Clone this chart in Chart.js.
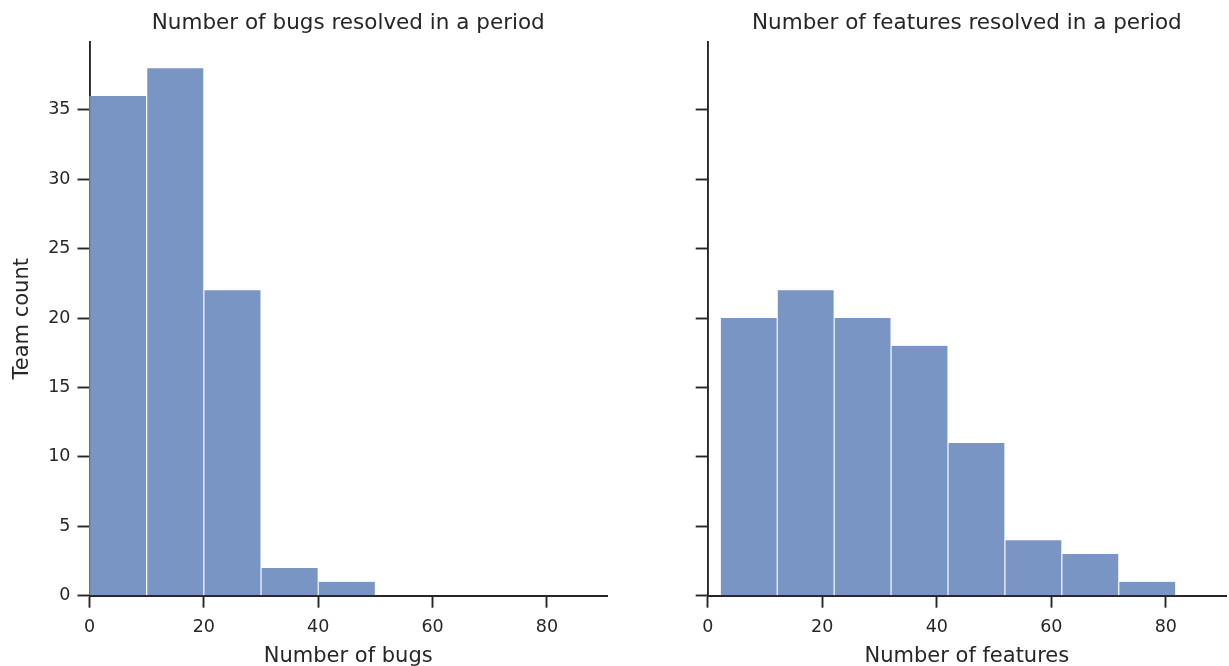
<!DOCTYPE html>
<html>
<head>
<meta charset="utf-8">
<script src="https://cdn.jsdelivr.net/npm/chart.js@4.4.1/dist/chart.umd.min.js"></script>
<style>
  html, body { margin: 0; padding: 0; background: #ffffff; }
  #wrap { position: relative; width: 1229px; height: 666px; }
  canvas { position: absolute; left: 0; top: 0; }
</style>
</head>
<body>
<div id="wrap">
  <canvas id="left" width="1229" height="666"></canvas>
  <canvas id="right" width="1229" height="666"></canvas>
</div>
<script>
// ---- Data ----
const bugBinEdges = [0, 10, 20, 30, 40, 50];
const bugCounts = [36, 38, 22, 2, 1];

const featureBinEdges = [2.2, 12.14, 22.08, 32.02, 41.96, 51.9, 61.84, 71.78, 81.72];
const featureCounts = [20, 22, 20, 18, 11, 4, 3, 1];

const xTickValues = [0, 20, 40, 60, 80];
const yTickValues = [0, 5, 10, 15, 20, 25, 30, 35];

const leftTitle = 'Number of bugs resolved in a period';
const rightTitle = 'Number of features resolved in a period';
const leftXLabel = 'Number of bugs';
const rightXLabel = 'Number of features';
const yLabel = 'Team count';

const xMin = 0, xMax = 90.5;
const yMin = 0, yMax = 39.9;

// ---- Styling ----
const INK = '#262626';
const BAR = 'rgba(76,114,176,0.75)';
const FONT = 'DejaVu Sans';

function toPoints(edges, counts) {
  return counts.map((c, i) => ({ x: (edges[i] + edges[i + 1]) / 2, y: c }));
}

function makeChart(canvasId, edges, counts, title, xLabel, showYLabels, yAxisWidth, padRight) {
  const ctx = document.getElementById(canvasId).getContext('2d');
  return new Chart(ctx, {
    type: 'bar',
    data: {
      datasets: [{
        data: toPoints(edges, counts),
        backgroundColor: BAR,
        borderColor: '#ffffff',
        borderWidth: { left: 0.9, right: 0.9, top: 0, bottom: 0 },
        borderSkipped: false,
        barPercentage: 1.0,
        categoryPercentage: 1.0
      }]
    },
    options: {
      responsive: false,
      animation: false,
      events: [],
      layout: { padding: { left: 0, right: padRight, top: 0, bottom: 0 } },
      plugins: {
        legend: { display: false },
        tooltip: { enabled: false },
        title: {
          display: true,
          text: title,
          fullSize: false,
          color: INK,
          font: { family: FONT, size: 21.5, weight: 'normal' },
          padding: { top: 10.8, bottom: 5.2 }
        }
      },
      scales: {
        x: {
          type: 'linear',
          min: xMin,
          max: xMax,
          offset: false,
          z: 1,
          afterBuildTicks: (s) => { s.ticks = xTickValues.map(v => ({ value: v })); },
          afterFit: (s) => { s.height = 70.3; },
          grid: {
            display: true,
            drawOnChartArea: false,
            drawTicks: true,
            offset: false,
            tickLength: 12,
            tickWidth: 1.9,
            tickColor: INK
          },
          border: { display: true, color: INK, width: 1.9 },
          ticks: {
            color: INK,
            padding: 9,
            maxRotation: 0,
            font: { family: FONT, size: 17.5 }
          },
          title: {
            display: true,
            text: xLabel,
            color: INK,
            font: { family: FONT, size: 21, lineHeight: 0.9 },
            padding: { top: 0, bottom: 0 }
          }
        },
        y: {
          type: 'linear',
          min: yMin,
          max: yMax,
          z: 1,
          afterBuildTicks: (s) => { s.ticks = yTickValues.map(v => ({ value: v })); },
          afterFit: (s) => { s.width = yAxisWidth; },
          grid: {
            display: true,
            drawOnChartArea: false,
            drawTicks: true,
            tickLength: 12,
            tickWidth: 1.9,
            tickColor: INK
          },
          border: { display: true, color: INK, width: 1.9 },
          ticks: {
            display: showYLabels,
            color: INK,
            padding: 7,
            font: { family: FONT, size: 17.5 }
          },
          title: {
            display: showYLabels,
            text: yLabel,
            color: INK,
            font: { family: FONT, size: 21 },
            padding: { top: 10, bottom: 0 }
          }
        }
      }
    }
  });
}

makeChart('left', bugBinEdges, bugCounts, leftTitle, leftXLabel, true, 89.5, 1229 - 607);
makeChart('right', featureBinEdges, featureCounts, rightTitle, rightXLabel, false, 707.7, 3);
</script>
</body>
</html>
